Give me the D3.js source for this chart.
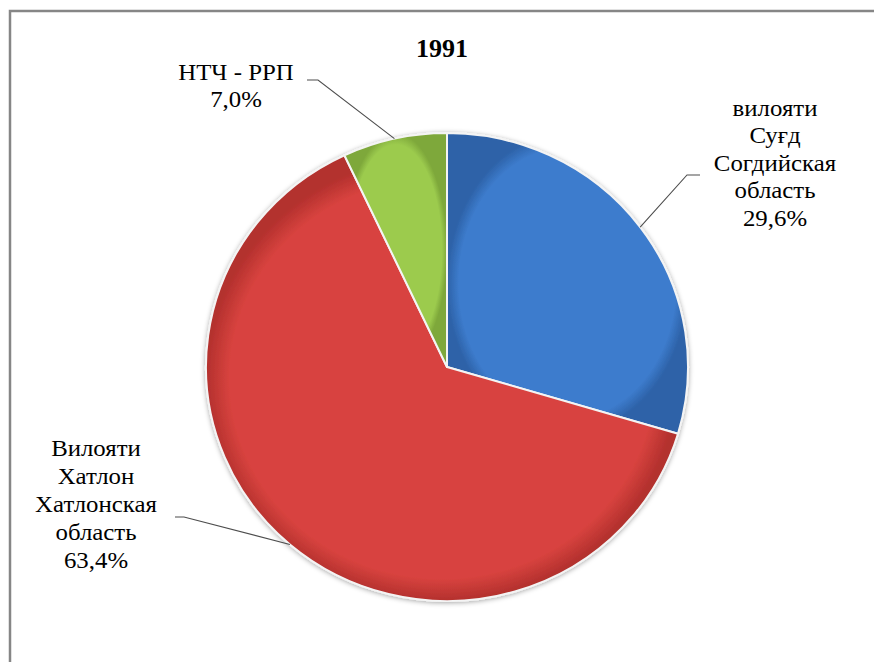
<!DOCTYPE html>
<html>
<head>
<meta charset="utf-8">
<script src="https://cdn.jsdelivr.net/npm/d3@7"></script>
<style>
  html, body { margin: 0; padding: 0; background: #fff; overflow: hidden; }
  svg { display: block; }
</style>
</head>
<body>
<svg id="chart" width="874" height="662"></svg>
<script>
// ---- data ----
const title = "1991";
const categories = [
  ["вилояти", "Суғд", "Согдийская", "область"],
  ["Вилояти", "Хатлон", "Хатлонская", "область"],
  ["НТЧ - РРП"]
];
const values = [29.6, 63.4, 7.0];
const valueLabels = ["29,6%", "63,4%", "7,0%"];
const colors = ["#3d7ccd", "#d8433f", "#9ccb4e"];
const darkColors = ["#2d62a8", "#b3302d", "#7ea83a"];

// ---- layout ----
const FONT = "'Liberation Serif', 'Times New Roman', 'DejaVu Serif', serif";
const svg = d3.select("#chart");
const cx = 447, cy = 367, rx = 241, ry = 234;

// frame (top and left edges visible only)
svg.append("path").attr("d", "M10,664 L10,11 L880,11")
  .attr("fill", "none").attr("stroke", "#868686").attr("stroke-width", 2.5);

const defs = svg.append("defs");
const f = defs.append("filter").attr("id", "sh").attr("x", "-10%").attr("y", "-10%").attr("width", "120%").attr("height", "120%");
f.append("feDropShadow").attr("dx", 0).attr("dy", 1).attr("stdDeviation", 2.5)
  .attr("flood-color", "#000").attr("flood-opacity", 0.35);

colors.forEach((c, i) => {
  const g = defs.append("radialGradient").attr("id", "g" + i)
    .attr("cx", "50%").attr("cy", "50%").attr("r", "50%");
  g.append("stop").attr("offset", "0%").attr("stop-color", c);
  g.append("stop").attr("offset", "90%").attr("stop-color", c);
  g.append("stop").attr("offset", "100%").attr("stop-color", darkColors[i]);
});

const pie = d3.pie().sort(null).value(d => d)(values);
const arc = d3.arc().innerRadius(0).outerRadius(rx);

const pg = svg.append("g")
  .attr("transform", `translate(${cx},${cy}) scale(1,${ry / rx})`)
  .attr("filter", "url(#sh)");

pg.selectAll("path.slice").data(pie).join("path")
  .attr("class", "slice")
  .attr("d", arc)
  .attr("fill", (d, i) => `url(#g${i})`)
  .attr("stroke", "#f4f4f4").attr("stroke-width", 2).attr("stroke-linejoin", "round");

// title
svg.append("text").attr("x", 442).attr("y", 57).attr("text-anchor", "middle")
  .attr("font-family", FONT).attr("font-size", 26).attr("font-weight", "bold").text(title);

// label layout
const labelLayout = [
  { x: 775, y: 116, lh: 27.5, lx: 700, ly: 175, hx: 687 },
  { x: 96,  y: 456, lh: 28,   lx: 175, ly: 517, hx: 184 },
  { x: 236, y: 80,  lh: 27,   lx: 307, ly: 80,  hx: 318 }
];
const SX = 1.08;

pie.forEach((d, i) => {
  const L = labelLayout[i];
  const lines = categories[i].concat([valueLabels[i]]);
  const t = svg.append("text").attr("text-anchor", "middle")
    .attr("transform", `translate(${L.x},0) scale(${SX},1)`)
    .attr("font-family", FONT).attr("font-size", 23).attr("fill", "#000");
  lines.forEach((s, j) => {
    t.append("tspan").attr("x", 0).attr("y", L.y + j * L.lh).text(s);
  });
  const mid = (d.startAngle + d.endAngle) / 2;
  const ex = cx + rx * Math.sin(mid), ey = cy - ry * Math.cos(mid);
  svg.append("polyline")
    .attr("points", `${L.lx},${L.ly} ${L.hx},${L.ly} ${ex},${ey}`)
    .attr("fill", "none").attr("stroke", "#4d4d4d").attr("stroke-width", 1.1);
});
</script>
</body>
</html>
